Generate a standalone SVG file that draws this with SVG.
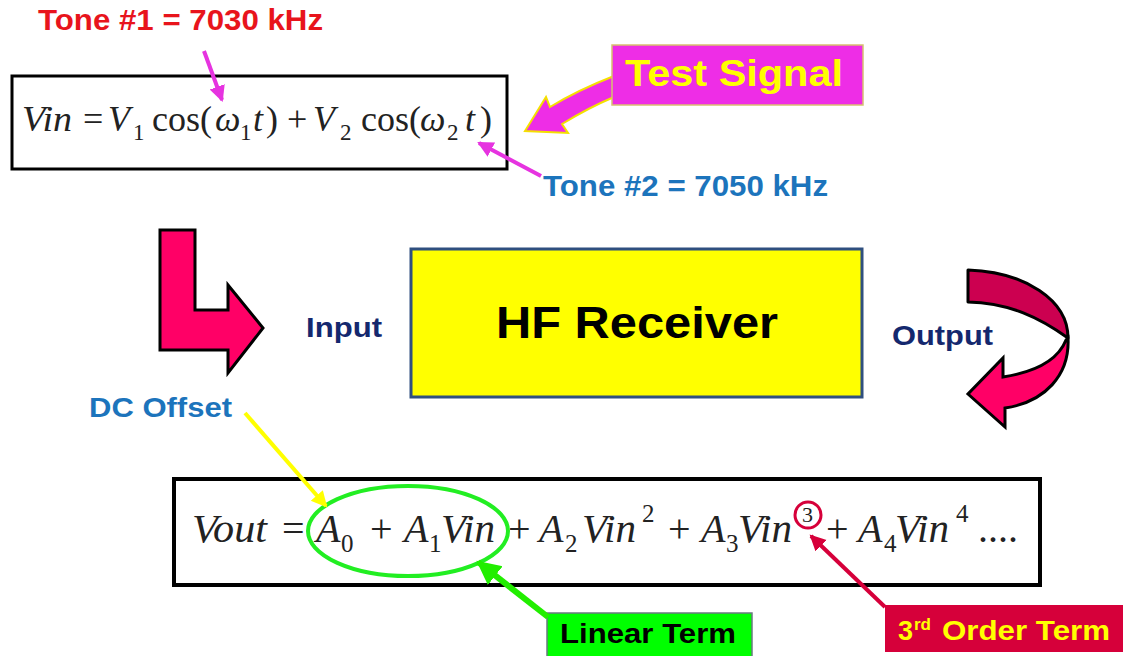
<svg xmlns="http://www.w3.org/2000/svg" width="1124" height="656" viewBox="0 0 1124 656">
<defs>
<style>
.lbl{font-family:"Liberation Sans",Arial,sans-serif;font-weight:bold}
.mi{font-family:"Liberation Serif","Times New Roman",serif;font-style:italic;fill:#222}
.mr{font-family:"Liberation Serif","Times New Roman",serif;fill:#222}
.box{fill:#fff;stroke:#000}
</style>
<marker id="hMag" markerUnits="userSpaceOnUse" markerWidth="20" markerHeight="20" refX="14" refY="8" orient="auto"><path d="M0,0 L16,8 L0,16 Z" fill="#e633e0"/></marker>
<marker id="hYel" markerUnits="userSpaceOnUse" markerWidth="20" markerHeight="20" refX="14" refY="8" orient="auto"><path d="M0,0 L16,8 L0,16 Z" fill="#ffff00"/></marker>
<marker id="hGrn" markerUnits="userSpaceOnUse" markerWidth="30" markerHeight="30" refX="22" refY="12" orient="auto"><path d="M0,0 L24,12 L0,24 Z" fill="#22ee00"/></marker>
<marker id="hRed" markerUnits="userSpaceOnUse" markerWidth="20" markerHeight="20" refX="14" refY="8" orient="auto"><path d="M0,0 L16,8 L0,16 Z" fill="#d6003a"/></marker>
</defs>
<rect width="1124" height="656" fill="#fff"/>

<g id="vin-box">
<rect class="box" x="12" y="76" width="495" height="93" stroke-width="3"/>
<text font-size="36" y="131">
<tspan class="mi" x="22" textLength="50" lengthAdjust="spacingAndGlyphs">Vin</tspan><tspan class="mr" x="83">=</tspan><tspan class="mi" x="108">V</tspan><tspan class="mr" x="133" y="140" font-size="23">1</tspan><tspan class="mr" x="152" y="131">cos(</tspan><tspan class="mi" x="215">ω</tspan><tspan class="mr" x="240" y="140" font-size="23">1</tspan><tspan class="mi" x="253" y="131">t</tspan><tspan class="mr" x="266">)</tspan><tspan class="mr" x="287">+</tspan><tspan class="mi" x="313">V</tspan><tspan class="mr" x="340" y="140" font-size="23">2</tspan><tspan class="mr" x="361" y="131">cos(</tspan><tspan class="mi" x="420">ω</tspan><tspan class="mr" x="447" y="140" font-size="23">2</tspan><tspan class="mi" x="465" y="131">t</tspan><tspan class="mr" x="480">)</tspan>
</text>
</g>

<g id="tone1"><text class="lbl" x="38" y="30" font-size="29" fill="#e8141c" textLength="285" lengthAdjust="spacingAndGlyphs">Tone #1 = 7030 kHz</text></g>
<g id="tone2"><text class="lbl" x="543" y="196" font-size="29" fill="#1c74bc" textLength="285" lengthAdjust="spacingAndGlyphs">Tone #2 = 7050 kHz</text></g>

<g id="test-signal">
<path d="M614,76 Q578,90 550,107 L546,97 L525,131 L568,133 L562,124 Q588,108 614,97 Z" fill="#ee2de6" stroke="#f4e000" stroke-width="2"/>
<rect x="612" y="45" width="251" height="60" fill="#ee2de6" stroke="#d8c070" stroke-width="1.5"/>
<text class="lbl" x="625" y="86" font-size="37" fill="#ffff00" textLength="218" lengthAdjust="spacingAndGlyphs">Test Signal</text>
</g>

<g id="input-arrow">
<polygon points="160,230 195,230 195,310 228,310 228,285 263,328 228,373 228,350 160,350" fill="#ff0066" stroke="#000" stroke-width="3" stroke-linejoin="miter"/>
</g>
<g id="input-label"><text class="lbl" x="306" y="337" font-size="28" fill="#14286e" textLength="76" lengthAdjust="spacingAndGlyphs">Input</text></g>

<g id="hf-receiver">
<rect x="411" y="249" width="451" height="148" fill="#ffff00" stroke="#2f4f7f" stroke-width="3"/>
<text class="lbl" x="637" y="338" font-size="45" fill="#000" text-anchor="middle" textLength="282" lengthAdjust="spacingAndGlyphs">HF Receiver</text>
</g>

<g id="output-label"><text class="lbl" x="892" y="345" font-size="28" fill="#14286e" textLength="101" lengthAdjust="spacingAndGlyphs">Output</text></g>
<g id="output-arrow">
<path d="M968,270 C1025,272 1068,300 1068,338 C1040,318 1010,303 968,302 Z" fill="#cc0050" stroke="#000" stroke-width="3" stroke-linejoin="round"/>
<path d="M1068,338 C1070,375 1045,402 1005,408 L1005,427 L968,394 L1003,358 L1003,377 C1035,372 1058,360 1066,340 Z" fill="#ff0066" stroke="#000" stroke-width="3" stroke-linejoin="miter"/>
</g>

<g id="dc-offset"><text class="lbl" x="89" y="417" font-size="28" fill="#1c74bc" textLength="143" lengthAdjust="spacingAndGlyphs">DC Offset</text></g>

<g id="vout-box">
<rect class="box" x="174" y="479" width="866" height="106" stroke-width="4"/>
<text font-size="40" y="542">
<tspan class="mi" x="192" textLength="75" lengthAdjust="spacingAndGlyphs">Vout</tspan><tspan class="mr" x="282">=</tspan><tspan class="mi" x="316">A</tspan><tspan class="mr" x="341" y="552" font-size="25">0</tspan><tspan class="mr" x="370" y="542">+</tspan><tspan class="mi" x="404">A</tspan><tspan class="mr" x="429" y="552" font-size="25">1</tspan><tspan class="mi" x="441" y="542" textLength="54" lengthAdjust="spacingAndGlyphs">Vin</tspan><tspan class="mr" x="508">+</tspan><tspan class="mi" x="539">A</tspan><tspan class="mr" x="565" y="552" font-size="25">2</tspan><tspan class="mi" x="582" y="542" textLength="54" lengthAdjust="spacingAndGlyphs">Vin</tspan><tspan class="mr" x="642" y="522" font-size="25">2</tspan><tspan class="mr" x="668" y="542">+</tspan><tspan class="mi" x="701">A</tspan><tspan class="mr" x="726" y="552" font-size="25">3</tspan><tspan class="mi" x="738" y="542" textLength="54" lengthAdjust="spacingAndGlyphs">Vin</tspan><tspan class="mr" x="802" y="522" font-size="22">3</tspan><tspan class="mr" x="826" y="542">+</tspan><tspan class="mi" x="858">A</tspan><tspan class="mr" x="884" y="552" font-size="25">4</tspan><tspan class="mi" x="895" y="542" textLength="54" lengthAdjust="spacingAndGlyphs">Vin</tspan><tspan class="mr" x="956" y="522" font-size="25">4</tspan><tspan class="mr" x="978" y="542">....</tspan>
</text>
<ellipse cx="408" cy="531" rx="100" ry="45" fill="none" stroke="#22ee22" stroke-width="4"/>
<circle cx="808" cy="515" r="13" fill="none" stroke="#d6003a" stroke-width="3"/>
</g>

<g id="linear-term">
<rect x="547" y="613" width="205" height="45" fill="#00ff00" stroke="#6a7a80" stroke-width="1.5"/>
<text class="lbl" x="560" y="643" font-size="27" fill="#000" textLength="176" lengthAdjust="spacingAndGlyphs">Linear Term</text>
</g>

<g id="third-order">
<rect x="885" y="605" width="238" height="47" fill="#d6003a"/>
<text class="lbl" y="640" font-size="27" fill="#ffff00"><tspan x="898">3</tspan><tspan x="914" y="630" font-size="17">rd</tspan><tspan x="942" y="640" textLength="168" lengthAdjust="spacingAndGlyphs">Order Term</tspan></text>
</g>

<g id="connectors" fill="none">
<line x1="204" y1="51" x2="222" y2="100" stroke="#e633e0" stroke-width="4" marker-end="url(#hMag)"/>
<line x1="541" y1="176" x2="479" y2="143" stroke="#e633e0" stroke-width="4" marker-end="url(#hMag)"/>
<line x1="245" y1="413" x2="326" y2="506" stroke="#ffff00" stroke-width="4" marker-end="url(#hYel)"/>
<line x1="548" y1="617" x2="478" y2="562" stroke="#22ee00" stroke-width="6" marker-end="url(#hGrn)"/>
<line x1="885" y1="607" x2="811" y2="536" stroke="#d6003a" stroke-width="4" marker-end="url(#hRed)"/>
</g>
</svg>
